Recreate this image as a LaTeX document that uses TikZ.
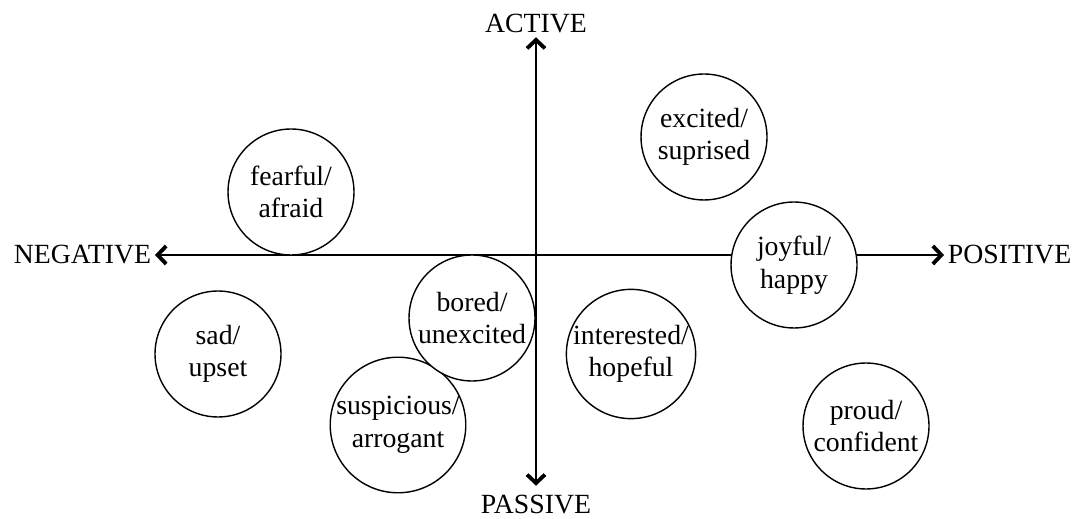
\documentclass[tikz,border=0pt]{standalone}
\usepackage{fontspec}
\setmainfont{Liberation Serif}
\usetikzlibrary{arrows.meta}

\begin{document}
\begin{tikzpicture}
	[
	x=0.02cm, y=-0.02cm,
	every node/.style={font=\fontsize{15.8}{18.5}\selectfont},
	mood/.style={circle,draw,fill=white,line width=0.8pt,minimum size=2.52cm,inner sep=0pt,align=center},
	pole/.style={inner sep=2pt},
	axis/.style={line width=1pt,{Straight Barb[length=1.7mm,width=3.6mm,line width=2.2pt]}-{Straight Barb[length=1.7mm,width=3.6mm,line width=2.2pt]}},
	]
	\useasboundingbox (0,0) rectangle (1074,519);
	% axes
	\node[pole] (active) at (536,24) {ACTIVE};
	\node[pole] (passive) at (536,505) {PASSIVE};
	\node[pole,anchor=east] (negative) at (155,255) {NEGATIVE};
	\node[pole,anchor=west] (positive) at (944,255) {POSITIVE};
	\draw[axis] (negative) -- (positive);
	\draw[axis,shorten >=1.2mm] (active) -- (passive);
	% moods
	\node[mood] (fearful) at (291,192) {fearful/\\afraid};
	\node[mood] (excited) at (704,137) {excited/\\suprised};
	\node[mood] (joyful) at (794,265) {joyful/\\happy};
	\node[mood] (sad) at (218,354) {sad/\\upset};
	\node[mood] (interested) at (631,354) {interested/\\hopeful};
	\node[mood] (suspicious) at (398,425) {suspicious/\\arrogant};
	\node[mood] (bored) at (472,318) {bored/\\unexcited};
	\node[mood] (proud) at (866,426) {proud/\\confident};
\end{tikzpicture}
\end{document}
